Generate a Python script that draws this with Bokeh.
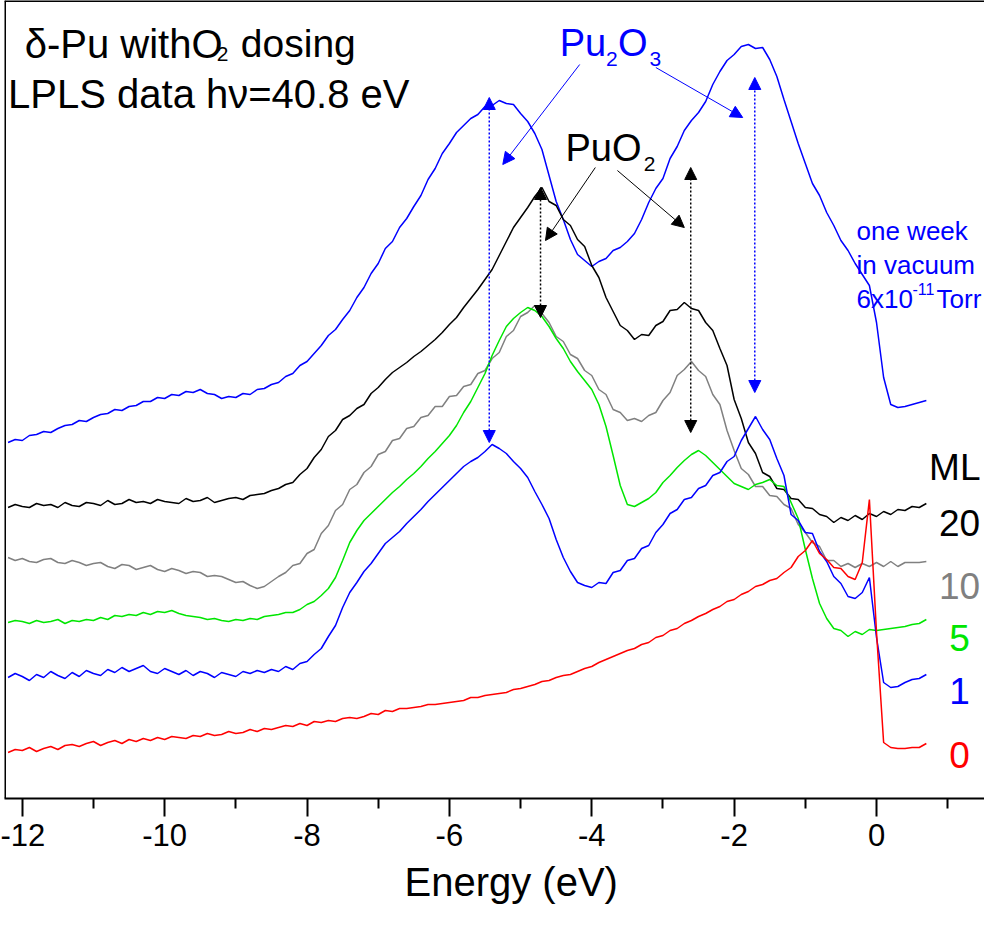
import numpy as np
from bokeh.plotting import figure
from bokeh.models import Range1d, FixedTicker, Arrow, NormalHead, Span, Label, Title
from bokeh.embed import file_html
from bokeh.resources import INLINE

# Energy grid (eV), 0.1 eV steps from -12.2 to 0.7
energy = np.round(np.arange(-122, 8) / 10.0, 1)

# Intensities (arbitrary units)
week_vacuum = [
    356, 359, 358, 363, 364, 367, 366, 370, 373, 374,
    378, 377, 381, 384, 385, 389, 388, 392, 393, 397,
    397, 401, 400, 404, 403, 407, 406, 409, 405, 404,
    400, 402, 401, 405, 404, 409, 410, 414, 416, 422,
    425, 433, 437, 445, 453, 463, 469, 479, 488, 501,
    511, 525, 535, 550, 557, 571, 580, 592, 603, 619,
    630, 645, 655, 666, 673, 680, 684, 692, 693, 698,
    695, 694, 685, 677, 665, 649, 623, 597, 579, 559,
    544, 538, 532, 537, 540, 548, 551, 557, 565, 579,
    596, 610, 620, 640, 652, 668, 678, 686, 697, 714,
    727, 738, 744, 752, 754, 750, 751, 739, 722, 699,
    677, 655, 635, 615, 603, 586, 573, 558, 548, 535,
    524, 513, 476, 421, 394, 391, 392, 394, 396, 398,
]
ml_20 = [
    291, 294, 292, 291, 295, 293, 294, 291, 296, 293,
    292, 296, 295, 293, 298, 294, 295, 299, 296, 297,
    295, 299, 297, 296, 295, 300, 297, 298, 301, 296,
    298, 300, 301, 299, 303, 304, 305, 308, 310, 314,
    316, 324, 330, 341, 349, 362, 368, 379, 383, 390,
    394, 405, 411, 419, 426, 431, 436, 442, 447, 453,
    459, 466, 474, 481, 491, 500, 509, 519, 529, 543,
    557, 571, 581, 591, 602, 611, 597, 593, 579, 573,
    559, 552, 533, 521, 501, 487, 473, 468, 459, 464,
    463, 473, 477, 488, 489, 496, 490, 488, 476, 468,
    450, 433, 399, 380, 356, 345, 326, 322, 310, 309,
    300, 299, 291, 290, 284, 282, 276, 281, 278, 283,
    279, 285, 282, 287, 284, 289, 288, 292, 291, 295,
]
ml_10 = [
    241, 238, 240, 237, 236, 239, 240, 236, 235, 238,
    236, 233, 235, 236, 232, 230, 234, 233, 229, 231,
    233, 229, 227, 230, 228, 225, 227, 226, 222, 223,
    222, 219, 216, 217, 213, 210, 212, 217, 222, 226,
    233, 235, 245, 249, 265, 273, 288, 294, 309, 314,
    326, 332, 344, 347, 358, 360, 370, 372, 381, 383,
    392, 392, 402, 403, 412, 414, 425, 428, 440, 446,
    462, 468, 482, 486, 493, 485, 476, 462, 457, 444,
    440, 428, 423, 409, 404, 389, 386, 378, 380, 377,
    383, 386, 398, 406, 423, 429, 437, 428, 422, 404,
    394, 368, 348, 330, 324, 312, 312, 303, 302, 294,
    290, 274, 266, 256, 252, 238, 238, 232, 235, 231,
    235, 232, 236, 232, 237, 232, 236, 236, 236, 237,
]
ml_5 = [
    176, 178, 177, 175, 178, 176, 177, 179, 175, 178,
    177, 179, 178, 181, 179, 183, 182, 184, 183, 186,
    184, 187, 186, 188, 185, 183, 182, 181, 179, 180,
    178, 177, 179, 178, 180, 179, 182, 183, 184, 186,
    186, 189, 194, 197, 203, 210, 221, 238, 256, 268,
    278, 285, 292, 299, 306, 312, 319, 325, 332, 340,
    347, 355, 363, 373, 386, 397, 411, 425, 443, 458,
    472, 480, 486, 491, 488, 482, 472, 460, 450, 437,
    427, 418, 409, 394, 372, 343, 313, 294, 292, 296,
    300, 306, 316, 323, 331, 338, 344, 348, 343, 336,
    329, 322, 315, 312, 309, 314, 316, 319, 313, 312,
    296, 280, 249, 220, 195, 180, 170, 168, 162, 167,
    164, 169, 168, 169, 170, 171, 172, 174, 175, 179,
]
ml_1 = [
    121, 125, 122, 118, 124, 121, 127, 123, 120, 126,
    122, 128, 125, 123, 129, 126, 131, 127, 130, 133,
    127, 125, 130, 127, 124, 128, 123, 127, 125, 121,
    126, 124, 122, 127, 125, 128, 126, 129, 127, 132,
    129, 135, 137, 144, 150, 162, 173, 191, 206, 216,
    227, 235, 245, 255, 261, 267, 275, 282, 289, 297,
    304, 311, 318, 325, 332, 337, 341, 347, 354, 350,
    345, 337, 330, 321, 307, 294, 280, 259, 241, 227,
    216, 213, 211, 216, 215, 226, 228, 238, 240, 250,
    253, 266, 274, 285, 289, 299, 301, 310, 313, 323,
    326, 337, 342, 358, 370, 382, 369, 359, 340, 323,
    284, 278, 266, 265, 247, 237, 222, 215, 202, 200,
    206, 221, 161, 116, 111, 112, 116, 119, 120, 124,
]
ml_0 = [
    46, 49, 48, 51, 47, 50, 52, 49, 53, 54,
    52, 55, 57, 53, 56, 58, 55, 59, 57, 60,
    58, 61, 59, 62, 61, 60, 63, 62, 65, 63,
    64, 67, 65, 66, 69, 67, 70, 69, 71, 73,
    72, 75, 73, 77, 76, 78, 77, 80, 81, 80,
    82, 85, 84, 88, 87, 90, 90, 91, 92, 94,
    94, 95, 96, 97, 98, 101, 101, 103, 104, 105,
    106, 109, 110, 112, 114, 117, 118, 121, 123, 124,
    127, 130, 132, 136, 139, 142, 145, 148, 150, 154,
    156, 161, 163, 168, 170, 175, 178, 182, 185, 189,
    192, 197, 199, 204, 207, 212, 214, 218, 220, 226,
    231, 242, 248, 258, 245, 239, 231, 230, 222, 219,
    236, 299, 166, 56, 51, 50, 50, 51, 51, 55,
]

ml_labels = ["20", "10", "5", "1", "0"]
ml_series = [ml_20, ml_10, ml_5, ml_1, ml_0]
ml_colors = ["#000000", "#808080", "#00e600", "#0000ff", "#ff0000"]
ml_label_y = [276, 213, 161, 108, 44]

tick_values = [-12, -10, -8, -6, -4, -2, 0]
tick_labels = ["-12", "-10", "-8", "-6", "-4", "-2", "0"]
minor_values = [-11, -9, -7, -5, -3, -1, 1]

BLUE = "#0000ff"
FONT = "Liberation Sans"

p = figure(width=984, height=914, output_backend="svg", toolbar_location=None,
           x_range=Range1d(-12.25, 1.517), y_range=Range1d(0, 798),
           y_axis_location=None,
           min_border_left=4, min_border_right=0, min_border_top=0,
           min_border_bottom=116)
p.grid.visible = False
p.outline_line_color = None
p.background_fill_color = "white"

xa = p.xaxis[0]
xa.ticker = FixedTicker(ticks=tick_values, minor_ticks=minor_values)
xa.major_label_overrides = dict(zip(tick_values, tick_labels))
xa.major_tick_in = 0
xa.major_tick_out = 18
xa.minor_tick_in = 0
xa.minor_tick_out = 10
xa.major_tick_line_width = 2
xa.minor_tick_line_width = 2
xa.axis_line_width = 2
xa.axis_line_color = "black"
xa.major_tick_line_color = "black"
xa.minor_tick_line_color = "black"
xa.major_label_text_font = FONT
xa.major_label_text_font_size = "31px"
xa.major_label_text_color = "black"
xa.major_label_standoff = 7

# axis title (placed below the axis, left-aligned with an offset to match)
p.add_layout(Title(text="Energy (eV)", align="left", offset=400, standoff=18,
                   vertical_align="bottom",
                   text_font=FONT, text_font_size="40px",
                   text_font_style="normal", text_color="black"), "below")

# top and left frame lines
p.add_layout(Span(location=798, dimension="width", line_color="black", line_width=3))
p.add_layout(Span(location=-12.25, dimension="height", line_color="black", line_width=3))

# curves
p.line(energy, week_vacuum, line_color=BLUE, line_width=1.5)
for ys, c in zip(ml_series, ml_colors):
    p.line(energy, ys, line_color=c, line_width=1.5)

# dotted double arrows
def dbl(x, y0, y1, color):
    p.add_layout(Arrow(x_start=x, y_start=y0, x_end=x, y_end=y1,
                       line_color=color, line_width=1.5, line_dash="2 2",
                       start=NormalHead(size=12, fill_color=color, line_color=color),
                       end=NormalHead(size=12, fill_color=color, line_color=color)))

dbl(-5.44, 356, 701, BLUE)
dbl(-1.71, 406, 721, BLUE)
dbl(-4.72, 481, 611, "black")
dbl(-2.61, 366, 631, "black")

def single(x0, y0, x1, y1, color):
    p.add_layout(Arrow(x_start=x0, y_start=y0, x_end=x1, y_end=y1,
                       line_color=color, line_width=1,
                       end=NormalHead(size=12, fill_color=color, line_color=color)))

single(-4.17, 734, -5.25, 634, BLUE)
single(-3.10, 731, -1.88, 681, BLUE)
single(-3.95, 631, -4.65, 558, "black")
single(-3.64, 628, -2.70, 571, "black")

def lab(x, y, text, size, color="black", align="left"):
    p.add_layout(Label(x=x, y=y, text=text, text_font=FONT, text_font_size=size,
                       text_color=color, text_align=align, text_baseline="alphabetic"))

# title block
lab(-11.966, 755, "\u03b4-Pu withO", "40px")
lab(-9.27, 745, "2", "21px")
lab(-8.93, 755, "dosing", "39px")
lab(-12.20, 705, "LPLS data h\u03bd=40.8 eV", "40px")

# Pu2O3
lab(-4.45, 756, "Pu", "38px", BLUE)
lab(-3.80, 740, "2", "21px", BLUE)
lab(-3.63, 756, "O", "38px", BLUE)
lab(-3.19, 740, "3", "21px", BLUE)

# PuO2
lab(-4.37, 651, "PuO", "38px")
lab(-3.27, 635, "2", "21px")

# one week in vacuum
lab(-0.281, 568, "one week", "26px", BLUE)
lab(-0.281, 534, "in vacuum", "26px", BLUE)
lab(-0.281, 500, "6x10", "26px", BLUE)
lab(0.505, 510, "-11", "16px", BLUE)
lab(0.843, 500, "Torr", "26px", BLUE)

# ML labels
lab(1.10, 331, "ML", "37px", "black", "center")
for t, c, yy in zip(ml_labels, ml_colors, ml_label_y):
    lab(1.166, yy, t, "37px", c, "center")

open("out.html", "w").write(file_html(p, INLINE))
